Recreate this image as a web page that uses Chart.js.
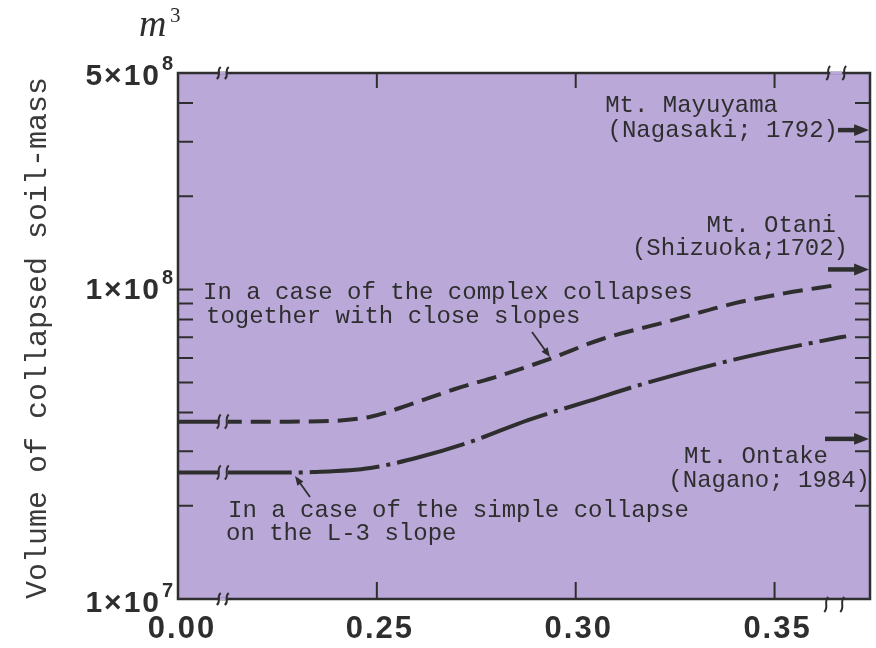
<!DOCTYPE html>
<html>
<head>
<meta charset="utf-8">
<script src="https://cdn.jsdelivr.net/npm/chart.js@4"></script>
<style>
  html, body { margin: 0; padding: 0; background: #fff; }
  canvas { display: block; }
</style>
</head>
<body>
<canvas id="chart" width="876" height="648"></canvas>
<script>
  // x = 0.20 is drawn as "0.00" (axis is broken right after it)
  const xTicks = [0.20, 0.25, 0.30, 0.35];
  const xTickLabels = ['0.00', '0.25', '0.30', '0.35'];
  const yTicks = [1e7, 1e8, 5e8];
  const yTickMantissa = ['1×10', '1×10', '5×10'];
  const yTickExp = ['7', '8', '8'];

  const complexX = [0.200, 0.211, 0.225, 0.236, 0.2484, 0.2584, 0.2693, 0.2819, 0.2937, 0.3063, 0.3232, 0.3398, 0.3524, 0.3650];
  const complexY = [3.74e7, 3.74e7, 3.74e7, 3.75e7, 3.88e7, 4.25e7, 4.75e7, 5.31e7, 5.98e7, 6.89e7, 7.88e7, 9.01e7, 9.71e7, 1.03e8];

  const simpleX = [0.200, 0.211, 0.225, 0.234, 0.2484, 0.2610, 0.2736, 0.2882, 0.3038, 0.3146, 0.3398, 0.3650, 0.3680];
  const simpleY = [2.56e7, 2.56e7, 2.56e7, 2.57e7, 2.65e7, 2.88e7, 3.22e7, 3.79e7, 4.38e7, 4.85e7, 5.93e7, 6.94e7, 7.05e7];

  // reference volumes marked with arrows on the right axis
  const refNames = ['Mt. Mayuyama', 'Mt. Otani', 'Mt. Ontake'];
  const refPlaces = ['(Nagasaki; 1792)', '(Shizuoka;1702)', '(Nagano; 1984)'];
  const refValues = [3.27e8, 1.16e8, 3.29e7];

  const ink = '#2e2e2e';
  const bg = '#baa8d8';
  const mono = '"Liberation Mono", "DejaVu Sans Mono", monospace';
  const sans = '"Liberation Sans", Arial, sans-serif';

  function toPts(xs, ys) {
    return xs.map((x, i) => ({ x: x, y: ys[i] }));
  }

  function arrow(ctx, x1, y1, x2, y2, head, w) {
    const a = Math.atan2(y2 - y1, x2 - x1);
    ctx.save();
    ctx.strokeStyle = ink;
    ctx.fillStyle = ink;
    ctx.lineWidth = w;
    ctx.beginPath();
    ctx.moveTo(x1, y1);
    ctx.lineTo(x2 - Math.cos(a) * head * 0.8, y2 - Math.sin(a) * head * 0.8);
    ctx.stroke();
    ctx.beginPath();
    ctx.moveTo(x2, y2);
    ctx.lineTo(x2 - head * Math.cos(a - 0.38), y2 - head * Math.sin(a - 0.38));
    ctx.lineTo(x2 - head * Math.cos(a + 0.38), y2 - head * Math.sin(a + 0.38));
    ctx.closePath();
    ctx.fill();
    ctx.restore();
  }

  // small wavy stroke used for the axis breaks
  function wiggle(ctx, x, yTop, h) {
    ctx.beginPath();
    ctx.moveTo(x + 2, yTop);
    ctx.bezierCurveTo(x - 3, yTop + h * 0.3, x + 3, yTop + h * 0.7, x - 2, yTop + h);
    ctx.stroke();
  }

  const decor = {
    id: 'decor',
    beforeDatasetsDraw(chart) {
      const { ctx, chartArea: a } = chart;
      ctx.save();
      ctx.fillStyle = bg;
      ctx.fillRect(a.left, a.top, a.right - a.left, a.bottom - a.top);
      ctx.restore();
    },
    afterDraw(chart) {
      const { ctx, chartArea: a } = chart;
      const xs = chart.scales.x, ys = chart.scales.y;
      ctx.save();
      ctx.strokeStyle = ink;
      ctx.fillStyle = ink;

      // frame
      ctx.lineWidth = 2.5;
      ctx.strokeRect(a.left, a.top, a.right - a.left, a.bottom - a.top);

      // inward minor/major ticks on left and right
      ctx.lineWidth = 2;
      for (let d = 1e7; d < 5e8; d *= 10) {
        for (let m = 1; m <= 9; m++) {
          const v = d * m;
          if (v <= 1e7 || v >= 5e8) continue;
          const py = ys.getPixelForValue(v);
          ctx.beginPath();
          ctx.moveTo(a.left, py); ctx.lineTo(a.left + 15, py);
          ctx.moveTo(a.right, py); ctx.lineTo(a.right - 15, py);
          ctx.stroke();
        }
      }
      // inward ticks on top and bottom
      xTicks.forEach((t, i) => {
        if (i === 0) return;
        const px = xs.getPixelForValue(t);
        ctx.beginPath();
        ctx.moveTo(px, a.bottom); ctx.lineTo(px, a.bottom - 17);
        ctx.moveTo(px, a.top); ctx.lineTo(px, a.top + 15);
        ctx.stroke();
      });

      // axis breaks
      const bx = xs.getPixelForValue(0.2105);
      ctx.lineWidth = 2;
      [a.top, a.bottom].forEach(py => {
        ctx.fillStyle = bg;
        ctx.fillRect(bx, py - 1.5, 6, 3);
        wiggle(ctx, bx - 1, py - 6, 12);
        wiggle(ctx, bx + 7, py - 6, 12);
      });
      const rx = xs.getPixelForValue(0.3640);
      ctx.fillRect(rx, a.top - 1.5, 12, 3);
      wiggle(ctx, rx - 2, a.top - 7, 14);
      wiggle(ctx, rx + 14, a.top - 7, 14);
      wiggle(ctx, rx - 4, a.bottom - 2, 15);
      wiggle(ctx, rx + 12, a.bottom - 2, 15);
      // breaks on the two curves
      [complexY[0], simpleY[0]].forEach(v => {
        const py = ys.getPixelForValue(v);
        ctx.fillStyle = bg;
        ctx.fillRect(bx - 1, py - 4, 9, 8);
        wiggle(ctx, bx - 1, py - 7, 14);
        wiggle(ctx, bx + 7, py - 7, 14);
      });

      // y tick labels
      ctx.fillStyle = ink;
      ctx.textBaseline = 'alphabetic';
      const yOff = [13, 10, 12];
      yTicks.forEach((t, i) => {
        const py = ys.getPixelForValue(t) + yOff[i];
        ctx.textAlign = 'right';
        ctx.font = 'bold 30px ' + sans;
        ctx.letterSpacing = '2px';
        ctx.fillText(yTickMantissa[i], 161, py);
        ctx.letterSpacing = '0px';
        ctx.font = 'bold 20px ' + sans;
        ctx.textAlign = 'left';
        ctx.fillText(yTickExp[i], 162, py - 15);
      });

      // x tick labels
      ctx.textAlign = 'center';
      ctx.font = 'bold 31px ' + sans;
      ctx.letterSpacing = '2px';
      xTicks.forEach((t, i) => {
        const px = i === 0 ? 182 : xs.getPixelForValue(t) + 3;
        ctx.fillText(xTickLabels[i], px, 638);
      });
      ctx.letterSpacing = '0px';

      // unit
      ctx.textAlign = 'left';
      ctx.font = 'italic 38px "Liberation Serif", "DejaVu Serif", serif';
      ctx.fillText('m', 139, 36);
      ctx.font = '21px "Liberation Serif", "DejaVu Serif", serif';
      ctx.fillText('3', 170, 22);

      // y-axis title
      ctx.save();
      ctx.translate(46, 338);
      ctx.rotate(-Math.PI / 2);
      ctx.textAlign = 'center';
      ctx.font = '30px ' + mono;
      ctx.fillStyle = '#3a3a3a';
      ctx.fillText('Volume of collapsed soil-mass', 0, 0);
      ctx.restore();

      // curve notes
      ctx.font = '24px ' + mono;
      ctx.textAlign = 'left';
      ctx.fillText('In a case of the complex collapses', 203, 299);
      ctx.fillText('together with close slopes', 206, 323);
      ctx.fillText('In a case of the simple collapse', 228, 517);
      ctx.fillText('on the L-3 slope', 226, 540);
      arrow(ctx, 532, 332, 550, 357, 10, 1.8);
      arrow(ctx, 310, 497, 295, 476, 10, 1.8);

      // reference volumes
      ctx.textAlign = 'right';
      const nameRight = [778, 836, 828];
      const placeRight = [838, 848, 870];
      const nameY = [112, 232, 463];
      const placeY = [137, 255, 487];
      const arrowFrom = [838, 828, 825];
      refValues.forEach((v, i) => {
        ctx.fillText(refNames[i], nameRight[i], nameY[i]);
        ctx.fillText(refPlaces[i], placeRight[i], placeY[i]);
        const py = ys.getPixelForValue(v);
        arrow(ctx, arrowFrom[i], py, a.right - 1, py, 16, 4.5);
      });

      ctx.restore();
    }
  };

  new Chart(document.getElementById('chart'), {
    type: 'scatter',
    data: {
      datasets: [{
        label: 'complex collapses',
        data: toPts(complexX, complexY),
        showLine: true,
        borderColor: ink,
        borderWidth: 4,
        borderDash: [20, 9],
        borderCapStyle: 'butt',
        cubicInterpolationMode: 'monotone',
        pointRadius: 0,
        segment: {
          borderDash: c => c.p1.parsed.x <= 0.2115 ? [] : [20, 9]
        }
      }, {
        label: 'simple collapse',
        data: toPts(simpleX, simpleY),
        showLine: true,
        borderColor: ink,
        borderWidth: 4,
        borderDash: [70, 7, 4, 7],
        borderCapStyle: 'butt',
        cubicInterpolationMode: 'monotone',
        pointRadius: 0,
        segment: {
          borderDash: c => c.p1.parsed.x <= 0.2115 ? [] : [70, 7, 4, 7]
        }
      }]
    },
    options: {
      responsive: false,
      animation: false,
      layout: { padding: { top: 73, right: 6, left: 0, bottom: 0 } },
      plugins: { legend: { display: false }, tooltip: { enabled: false } },
      scales: {
        x: {
          type: 'linear', min: 0.20, max: 0.3740,
          ticks: { display: false }, grid: { display: false }, border: { display: false },
          afterFit: s => { s.height = 49; }
        },
        y: {
          type: 'logarithmic', min: 1e7, max: 5e8,
          ticks: { display: false }, grid: { display: false }, border: { display: false },
          afterFit: s => { s.width = 178; }
        }
      }
    },
    plugins: [decor]
  });
</script>
</body>
</html>
